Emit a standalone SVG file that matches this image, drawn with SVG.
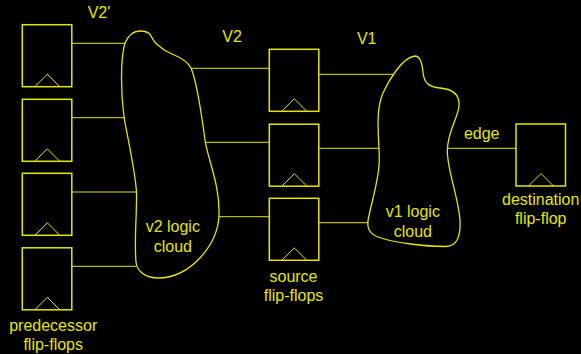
<svg xmlns="http://www.w3.org/2000/svg" width="581" height="354" viewBox="0 0 581 354">
<style>
.bg{fill:#000}
.ff{fill:none;stroke:#e6e600;stroke-width:1.5}
.clk{fill:none;stroke:#e6e600;stroke-width:1}
.cloud{fill:none;stroke:#e6e600;stroke-width:1.3}
.wire{fill:none;stroke:#e6e600;stroke-width:1}
text{font-family:"Liberation Sans",Arial,sans-serif;font-size:16px;fill:#e6e600;text-anchor:middle}
</style>
<defs>
<g id="flop">
<rect class="ff" x="0" y="0" width="49.5" height="62"/>
<polyline class="clk" points="12.5,62 25,49.5 37.5,62"/>
</g>
</defs>
<rect class="bg" x="0" y="0" width="581" height="354"/>
<g id="connectors">
<line class="wire" x1="72" y1="43.3" x2="125" y2="43.3"/>
<line class="wire" x1="72" y1="117.7" x2="125" y2="117.7"/>
<line class="wire" x1="72" y1="192" x2="136.5" y2="192"/>
<line class="wire" x1="72" y1="266.3" x2="136" y2="266.3"/>
<line class="wire" x1="191" y1="68.3" x2="269.3" y2="68.3"/>
<line class="wire" x1="205" y1="142.3" x2="269.3" y2="142.3"/>
<line class="wire" x1="219" y1="216.7" x2="269.3" y2="216.7"/>
<line class="wire" x1="318.8" y1="74.3" x2="393" y2="74.3"/>
<line class="wire" x1="318.8" y1="148.3" x2="379.3" y2="148.3"/>
<line class="wire" x1="318.8" y1="222.7" x2="368.5" y2="222.7"/>
<line class="wire" x1="447.3" y1="148.3" x2="516" y2="148.3"/>
</g>
<g id="pred1"><use href="#flop" x="22.3" y="24.7"/></g>
<g id="pred2"><use href="#flop" x="22.3" y="99.3"/></g>
<g id="pred3"><use href="#flop" x="22.3" y="173.3"/></g>
<g id="pred4"><use href="#flop" x="22.3" y="247.8"/></g>
<g id="pred-label"><text x="53.2" y="331">predecessor</text><text x="53.2" y="350">flip-flops</text></g>
<g id="v2cloud">
<path class="cloud" d="M140,31 C146,31 149,32 151,36 C155,45 163,50 172,54 C182,58 188,62 191,68 C197,82 201,110 205,140 C208,160 220,185 219,215 C218,245 190,278 158,278 C148,278 137,273 136,262 C134,240 137,215 136.5,192 C135,170 128,140 124,117 C121,95 120,60 125,43 C128,36 133,31 140,31 Z"/>
<text x="172.8" y="231.7">v2 logic</text><text x="172.8" y="251.7">cloud</text>
</g>
<g id="src1"><use href="#flop" x="269.3" y="49.3"/></g>
<g id="src2"><use href="#flop" x="269.3" y="124.2"/></g>
<g id="src3"><use href="#flop" x="269.3" y="198.3"/></g>
<g id="src-label"><text x="293.5" y="282.3">source</text><text x="293.5" y="300.5">flip-flops</text></g>
<g id="v1cloud">
<path class="cloud" d="M415,56 C420,56 422,62 423,72 C424,84 430,87 440,88 C452,89 460,94 459,106 C458,118 448,130 447.3,150 C447,170 458,195 460,220 C461,240 455,246.5 445,246.5 C425,246.5 395,243 378,237 C370,234 366,228 368.5,218 C372,200 379,180 379.3,160 C379,135 375,112 383,93 C388,82 402,57 415,56 Z"/>
<text x="412.8" y="216.7">v1 logic</text><text x="412.8" y="236.5">cloud</text>
</g>
<g id="dest"><use href="#flop" x="516" y="124"/><text x="540.7" y="205">destination</text><text x="540.7" y="224.3">flip-flop</text></g>
<g id="labels">
<text x="99" y="18.3">V2'</text>
<text x="232" y="42.3">V2</text>
<text x="366.7" y="43.7">V1</text>
<text x="481.7" y="139.3">edge</text>
</g>
</svg>
